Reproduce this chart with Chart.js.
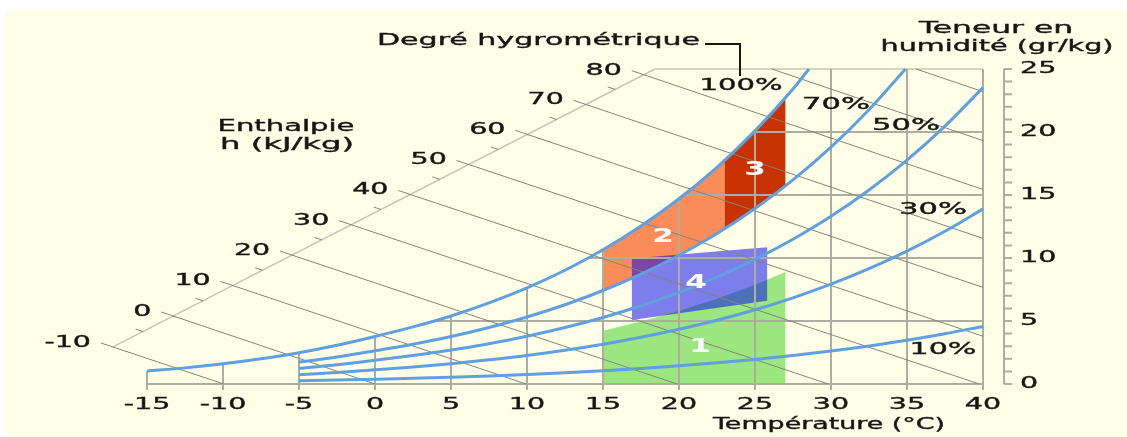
<!DOCTYPE html>
<html>
<head>
<meta charset="utf-8">
<script src="https://cdn.jsdelivr.net/npm/chart.js@4.4.0/dist/chart.umd.min.js"></script>
<style>
  html, body { margin: 0; background: #fff; }
  #wrap { width: 1127px; height: 437px; }
</style>
</head>
<body>
<div id="wrap"><canvas id="chart" width="1127" height="437"></canvas></div>
<script>
// humidity curves, g/kg
const satT = [-15, -12.5, -10, -7.5, -5, -2.5, 0, 2.5, 5, 7.5, 10, 12.5, 15, 17.5, 20, 22.5, 25, 27.5, 28.55];
const rh100 = [1.02, 1.28, 1.60, 2.00, 2.48, 3.07, 3.77, 4.53, 5.40, 6.44, 7.63, 9.03, 10.65, 12.54, 14.70, 17.20, 20.09, 23.41, 25];
const lowT = [-5, -2.5, 0, 2.5, 5, 7.5, 10, 12.5, 15, 17.5, 20, 22.5, 25, 27.5, 30, 32.5, 35, 37.5, 40];
const rh70T = [-5, -2.5, 0, 2.5, 5, 7.5, 10, 12.5, 15, 17.5, 20, 22.5, 25, 27.5, 30, 32.5, 34.9];
const rh70 = [1.73, 2.14, 2.64, 3.16, 3.77, 4.49, 5.32, 6.29, 7.42, 8.72, 10.22, 11.94, 13.93, 16.20, 18.80, 21.77, 25];
const rh50 = [1.24, 1.53, 1.88, 2.26, 2.69, 3.20, 3.79, 4.48, 5.28, 6.21, 7.26, 8.48, 9.89, 11.49, 13.31, 15.40, 17.77, 20.47, 23.52];
const rh30 = [0.74, 0.92, 1.13, 1.35, 1.61, 1.92, 2.27, 2.68, 3.16, 3.71, 4.34, 5.06, 5.89, 6.84, 7.92, 9.15, 10.54, 12.12, 13.90];
const rh10 = [0.25, 0.31, 0.38, 0.45, 0.54, 0.64, 0.76, 0.89, 1.05, 1.23, 1.44, 1.68, 1.95, 2.27, 2.62, 3.02, 3.48, 3.99, 4.57];

// comfort zones
const zone1T = [15, 15, 17.5, 20, 22.5, 25, 27, 27, 15];
const zone1W = [0, 4.22, 4.96, 5.80, 6.77, 7.88, 8.89, 0, 0];
const zone2T = [15, 17.5, 20, 22.5, 23, 23, 22.5, 20, 17.5, 15, 15];
const zone2W = [10.65, 12.54, 14.70, 17.20, 17.74, 12.31, 11.94, 10.22, 8.72, 7.42, 10.65];
const zone3T = [23, 24, 25, 26, 27, 27, 26, 25, 24, 23, 23];
const zone3W = [17.74, 18.88, 20.09, 21.35, 22.70, 15.72, 14.79, 13.93, 13.10, 12.31, 17.74];
const zone4T = [16.9, 16.9, 25.8, 25.8, 16.9];
const zone4W = [5.08, 9.97, 10.85, 6.61, 5.08];

// grid
const gridT = [-15, -10, -5, 0, 5, 10, 15, 20, 25, 30, 35, 40];
const gridTop = [1.02, 1.60, 2.48, 3.77, 5.40, 7.63, 10.65, 14.70, 20.09, 25, 25, 25];
const gridW = [5, 10, 15, 20];
const gridLeft = [3.85, 14.0, 20.3, 24.9];
const topLineT = [18.42, 40];

// enthalpy lines (kJ/kg)
const enthValues = [-10, 0, 10, 20, 30, 40, 50, 60, 70, 80, 90, 100];
const enthStartT = [-17.24, -13.27, -9.36, -5.45, -1.56, 2.33, 6.17, 10.03, 13.87, 17.69, 26.1, 35.6];
const enthStartW = [2.94, 5.40, 7.82, 10.23, 12.64, 15.04, 17.42, 19.81, 22.19, 24.55, 25, 25];
const enthEndT = [-9.94, 0, 9.94, 19.88, 29.82, 39.76, 40, 40, 40, 40, 40, 40];
const enthEndW = [0, 0, 0, 0, 0, 0, 3.79, 7.67, 11.56, 15.44, 19.32, 23.20];
const enthMinorT = [-15.26, -11.32, -7.40, -3.50, 0.39, 4.25, 8.10, 11.95, 15.80];
const enthMinorW = [4.16, 6.60, 9.03, 11.44, 13.85, 16.25, 18.62, 21.00, 23.38];
const enthAxisT = [-17.24, 18.42];
const enthAxisW = [2.94, 25];

const xTicks = [-15, -10, -5, 0, 5, 10, 15, 20, 25, 30, 35, 40];
const yTicks = [0, 5, 10, 15, 20, 25];

const CURVE = "#60a0de";
const GRID = "#adada0";
const ENTH = "#85857a";
const LIGHT = "#c6c6b4";
const SX = 1.9; // the original lettering is drawn wide
const TICK_OFF = [-0.8, 0.32]; // enthalpy tick stub, in data units

const pts = (ts, ws) => ts.map((t, i) => ({ x: t, y: ws[i] }));

function segments(list) {
  const out = [];
  list.forEach(([a, b]) => { out.push(a, b, { x: a.x, y: null }); });
  return out;
}

function line(data, color, width, order, extra) {
  return Object.assign({
    data, showLine: true, borderColor: color, borderWidth: width,
    pointRadius: 0, fill: false, clip: false, order, spanGaps: false, tension: 0,
  }, extra || {});
}

function zone(ts, ws, color, order) {
  return line(pts(ts, ws), "transparent", 0, order, { fill: "shape", backgroundColor: color });
}

const enthSegs = [];
enthValues.forEach((h, i) => {
  let sx = enthStartT[i], sy = enthStartW[i];
  if (i < 10) { sx += TICK_OFF[0]; sy += TICK_OFF[1]; }
  enthSegs.push([{ x: sx, y: sy }, { x: enthEndT[i], y: enthEndW[i] }]);
});
enthMinorT.forEach((t, i) => {
  enthSegs.push([{ x: t + TICK_OFF[0] * 0.6, y: enthMinorW[i] + TICK_OFF[1] * 0.6 }, { x: t, y: enthMinorW[i] }]);
});

const gridSegs = gridT.map((t, i) => [{ x: t, y: 0 }, { x: t, y: gridTop[i] }])
  .concat(gridW.map((w, i) => [{ x: gridLeft[i], y: w }, { x: 40, y: w }]));

const curveOpts = { cubicInterpolationMode: "monotone" };

const datasets = [
  line(pts(satT, rh100), CURVE, 3, 0, curveOpts),
  line(pts(rh70T, rh70), CURVE, 3, 0, curveOpts),
  line(pts(lowT, rh50), CURVE, 3, 0, curveOpts),
  line(pts(lowT, rh30), CURVE, 3, 0, curveOpts),
  line(pts(lowT, rh10), CURVE, 3, 0, curveOpts),
  line(segments(enthSegs), ENTH, 1, 1),
  line(segments(gridSegs), GRID, 2, 2),
  line(pts(enthAxisT, enthAxisW).concat([{ x: 18.42, y: null }], pts(topLineT, [25, 25])), LIGHT, 1.5, 2),
  line(pts([-15, 40], [0, 0]), GRID, 2, 2),
  zone(zone4T, zone4W, "rgba(6,6,238,0.52)", 3),
  zone(zone3T, zone3W, "#c83200", 4),
  zone(zone2T, zone2W, "#fa8c5a", 4),
  zone(zone1T, zone1W, "#9be67e", 4),
];

// wide lettering; width (when given) fixes the painted width
function txt(ctx, s, x, y, align, opts) {
  const o = Object.assign({ size: 15, bold: false, color: "#161616", sx: SX, width: 0, stroke: 0.35 }, opts || {});
  ctx.save();
  ctx.font = `${o.bold ? "bold " : ""}${o.size}px "DejaVu Sans"`;
  ctx.fillStyle = o.color;
  ctx.strokeStyle = o.color;
  ctx.lineWidth = o.stroke;
  ctx.textBaseline = "middle";
  ctx.textAlign = "left";
  const raw = ctx.measureText(s).width;
  const sx = o.width ? o.width / raw : o.sx;
  const w = raw * sx;
  const left = align === "right" ? x - w : align === "center" ? x - w / 2 : x;
  ctx.translate(left, y);
  ctx.scale(sx, 1);
  ctx.fillText(s, 0, 0);
  if (o.stroke) ctx.strokeText(s, 0, 0);
  ctx.restore();
}

const background = {
  id: "background",
  beforeDraw(chart) {
    const ctx = chart.ctx;
    ctx.save();
    ctx.fillStyle = "#ffffe8";
    ctx.fillRect(6, 10, 1121, 426);
    ctx.restore();
  },
};

const decorations = {
  id: "decorations",
  afterDatasetsDraw(chart) {
    const ctx = chart.ctx;
    const xs = chart.scales.x, ys = chart.scales.y;
    const px = v => xs.getPixelForValue(v), py = v => ys.getPixelForValue(v);

    // right humidity axis
    const ax = px(40) + 21;
    ctx.save();
    ctx.strokeStyle = GRID;
    ctx.lineWidth = 2;
    ctx.beginPath();
    ctx.moveTo(ax, py(0));
    ctx.lineTo(ax, py(25));
    for (let w = 0; w <= 25; w++) {
      ctx.moveTo(ax, py(w));
      ctx.lineTo(ax + 8, py(w));
    }
    // temperature tick stubs
    xTicks.forEach(t => { ctx.moveTo(px(t), py(0)); ctx.lineTo(px(t), py(0) + 6); });
    ctx.stroke();

    // leader for the hygrometric label
    ctx.strokeStyle = "#161616";
    ctx.beginPath();
    ctx.moveTo(705, 44);
    ctx.lineTo(740, 44);
    ctx.lineTo(740, 76);
    ctx.stroke();
    ctx.restore();

    yTicks.forEach(w => txt(ctx, String(w), ax + 16, py(w), "left"));
    xTicks.forEach(t => txt(ctx, String(t), px(t), py(0) + 21, "center"));
    enthValues.slice(0, 10).forEach((h, i) =>
      txt(ctx, String(h), px(enthStartT[i]) - 22, py(enthStartW[i]) - 4, "right"));

    txt(ctx, "Température (°C)", 829, 425, "center", { width: 232 });
    txt(ctx, "Teneur en", 996, 29, "center", { width: 154 });
    txt(ctx, "humidité (gr/kg)", 997, 47, "center", { width: 233 });
    txt(ctx, "Enthalpie", 286, 127, "center", { width: 137 });
    txt(ctx, "h (kJ/kg)", 287, 145, "center", { width: 134 });
    txt(ctx, "Degré hygrométrique", 700, 41, "right", { width: 323 });
    txt(ctx, "100%", 741, 86, "center", { width: 83 });
    txt(ctx, "70%", 836, 105, "center", { width: 68 });
    txt(ctx, "50%", 906, 126, "center", { width: 68 });
    txt(ctx, "30%", 933, 210, "center", { width: 68 });
    txt(ctx, "10%", 943, 350, "center", { width: 67 });

    const num = { size: 20, bold: true, color: "#ffffff", sx: 1.55, stroke: 0 };
    txt(ctx, "1", 700, 347, "center", num);
    txt(ctx, "2", 663, 237, "center", num);
    txt(ctx, "3", 755, 170, "center", num);
    txt(ctx, "4", 696, 283, "center", num);
  },
};

new Chart(document.getElementById("chart"), {
  type: "scatter",
  data: { datasets },
  options: {
    responsive: false,
    animation: false,
    events: [],
    devicePixelRatio: 1,
    layout: { padding: { left: 147, right: 144, top: 69, bottom: 53 } },
    scales: {
      x: { type: "linear", min: -15, max: 40, display: false },
      y: { type: "linear", min: 0, max: 25, display: false },
    },
    plugins: { legend: { display: false }, tooltip: { enabled: false } },
    elements: { point: { radius: 0 } },
  },
  plugins: [background, decorations],
});
</script>
</body>
</html>
